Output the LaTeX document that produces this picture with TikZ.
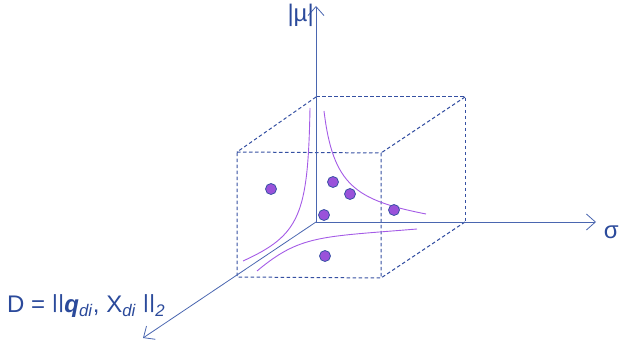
\documentclass[tikz,border=0pt]{standalone}
\usepackage{fontspec}
\setmainfont{Liberation Sans}
\usetikzlibrary{arrows.meta}
\definecolor{axisblue}{HTML}{4A66B0}
\definecolor{edgeblue}{HTML}{3550A2}
\definecolor{txtblue}{HTML}{2B4A9B}
\definecolor{curvepurple}{HTML}{A45BE6}
\definecolor{dotfill}{HTML}{9A52DA}
\definecolor{dotedge}{HTML}{3A52A6}
\newcommand{\barmark}{\raisebox{0.17em}{\scalebox{1}[0.8]{|}}}
\tikzset{
  axis/.style={draw=axisblue, line width=0.8pt, -{Straight Barb[length=9pt,width=16pt,line width=0.8pt]}},
  edge/.style={draw=edgeblue, line width=1pt, dash pattern=on 3.5pt off 2.5pt},
  curve/.style={draw=curvepurple, line width=0.9pt},
  dot/.style={circle, fill=dotfill, draw=dotedge, line width=0.8pt, minimum size=11pt, inner sep=0pt},
  lbl/.style={text=txtblue, inner sep=0pt, font=\fontsize{24}{28}\selectfont}
}
\begin{document}
\begin{tikzpicture}[x=1pt,y=-1pt]
\useasboundingbox (0,0) rectangle (619,344);
% cube corners
\coordinate (O) at (316,222);
\coordinate (BTL) at (316,97);
\coordinate (BTR) at (465,97);
\coordinate (BBR) at (465,222);
\coordinate (FTL) at (237,152);
\coordinate (FTR) at (381,153);
\coordinate (FBL) at (237,277);
\coordinate (FBR) at (381,278);
\coordinate (Ytip) at (316,6);
\coordinate (Xtip) at (596,222);
\coordinate (Ztip) at (143,338);
% dashed cube edges
\draw[edge] (FTL) -- (FTR) -- (FBR) -- (FBL) -- cycle;
\draw[edge] (BTL) -- (BTR) -- (BBR);
\draw[edge] (BTL) -- (FTL);
\draw[edge] (BTR) -- (FTR);
\draw[edge] (BBR) -- (FBR);
% axes
\draw[axis] (O) -- (Ytip);
\draw[axis] (O) -- (Xtip);
\draw[axis] (O) -- (Ztip);
% curves
\draw[curve] (310,108) .. controls (308,215) and (300,235) .. (243,261);
\draw[curve] (324,111) .. controls (333,185) and (355,200) .. (426,214);
\draw[curve] (257,271) .. controls (300,235) and (320,237) .. (417,229);
% dots
\node[dot] (d1) at (271,189) {};
\node[dot] (d2) at (333,182) {};
\node[dot] (d3) at (350,194) {};
\node[dot] (d4) at (324,215) {};
\node[dot] (d5) at (394,210) {};
\node[dot] (d6) at (325,256) {};
% labels
\node[lbl, anchor=east] (mu) at (314,15) {|µ|};
\node[lbl, anchor=east] (sigma) at (619,232) {σ};
\node[lbl, anchor=base west] (dist) at (7,313) {D = \barmark\barmark\textbf{\textit{q}}\textsubscript{\textit{di}}, X\textsubscript{\textit{di}} \barmark\barmark\textsubscript{\textit{2}}};
\end{tikzpicture}
\end{document}
